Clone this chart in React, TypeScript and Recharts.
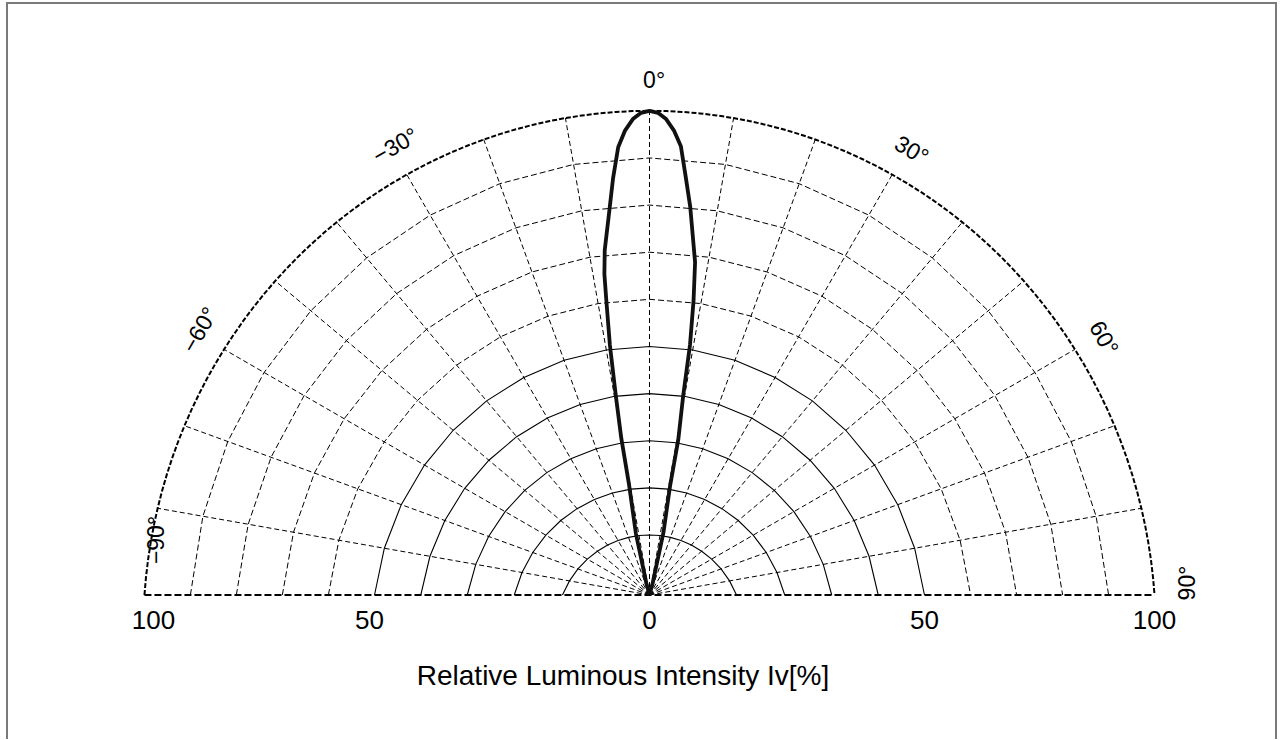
import React from 'react';
import { ScatterChart, Scatter, XAxis, YAxis } from 'recharts';

// ---------------- data ----------------
const gridAngles = [-90, -80, -70, -60, -50, -40, -30, -20, -10, 0, 10, 20, 30, 40, 50, 60, 70, 80, 90];
const spokeAngles = [-80, -70, -60, -50, -40, -30, -20, -10, 0, 10, 20, 30, 40, 50, 60, 70, 80];
const solidRings = [10, 20, 30, 40, 50];
const dashedRings = [60, 70, 80, 90];
const outerRing = 100;

// radiation pattern: angle (deg) -> relative luminous intensity (%)
const curveAngles = [-90, -30, -15, -12.5, -10.5, -10.2, -9.6, -9, -8.3, -8, -7.4, -6, -5, -4, -3, -2, -1, 0, 1, 2, 3, 4, 5, 6, 7.8, 8.5, 9.2, 9.6, 10.5, 10.7, 12.6, 15, 30, 90];
const curveValues = [0, 0, 2, 10.5, 21, 31, 40, 51, 61, 66, 71, 79, 86, 92.5, 96, 98.3, 99.6, 100, 99.6, 98.3, 96, 92.7, 86, 80, 68.5, 60.5, 51, 40, 30.7, 20.6, 10.7, 2, 0, 0];

const angleLabelAngles = [-90, -60, -30, 0, 30, 60, 90];
const angleLabelTexts = ['\u221290\u00b0', '\u221260\u00b0', '\u221230\u00b0', '0\u00b0', '30\u00b0', '60\u00b0', '90\u00b0'];

const tickValues = [-100, -50, 0, 50, 100];
const tickLabels = ['100', '50', '0', '50', '100'];
const axisTitle = 'Relative Luminous Intensity Iv[%]';

// ---------------- geometry / layout ----------------
const W = 1280;
const H = 740;
const CX = 649.5;
const BASE_Y = 595;
const PX = 5.045; // px per unit
const RING_D = 36.8 / PX; // ring centres sit slightly below the baseline
const RING_SY = 1.029;
const ringRadius = (v: number) => (48.3 + 4.58 * v) / PX;
const LABEL_GAP = 31 / PX;
const FONT = '"Liberation Sans", Arial, Helvetica, sans-serif';
const OUTER_STEP = 2;
const outerAngles = Array.from({ length: 180 / OUTER_STEP + 1 }, (_, i) => -90 + i * OUTER_STEP);

function rho(deg: number, v: number): number {
  if (v <= 0) return 0;
  if (v < 10) return (v / 10) * rho(deg, 10);
  const th = (deg * Math.PI) / 180;
  const s = Math.sin(th);
  const c = Math.cos(th);
  const a = ringRadius(v);
  const b = a * RING_SY;
  const d = RING_D;
  const A = (s * s) / (a * a) + (c * c) / (b * b);
  const B = (2 * c * d) / (b * b);
  const C = (d * d) / (b * b) - 1;
  return (-B + Math.sqrt(B * B - 4 * A * C)) / (2 * A);
}

function polar(deg: number, v: number, extra = 0) {
  const r = rho(deg, v) + (v > 0 ? extra : 0);
  const th = (deg * Math.PI) / 180;
  return { x: r * Math.sin(th), y: r * Math.cos(th) };
}

const ringData = (v: number, angles: number[] = gridAngles) => angles.map((a) => polar(a, v));
const spokeData = (a: number) => [{ x: 0, y: 0 }, polar(a, outerRing)];
const baselineData = [polar(-90, outerRing), { x: 0, y: 0 }, polar(90, outerRing)];
const curveData = curveAngles.map((a, i) => polar(a, curveValues[i]));
const labelData = angleLabelAngles.map((a, i) => ({
  ...(Math.abs(a) === 90 ? polar(a, outerRing) : polar(a, outerRing, LABEL_GAP)),
  angle: a,
  text: angleLabelTexts[i],
}));
const tickPositions = tickValues.map((v) => Math.sign(v) * rho(90, Math.abs(v)));
const tickDx = [9, -5, 0, 0, 0];

const X_DOMAIN: [number, number] = [-CX / PX, (W - CX) / PX];
const Y_DOMAIN: [number, number] = [0, BASE_Y / PX];

const noShape = () => <g />;

const AngleLabel = (props: any) => {
  const { cx, cy, payload } = props;
  const a = payload.angle;
  let tx = cx;
  let ty = cy;
  let rot = a;
  let dx = 4.6;
  if (a === -90) {
    tx = cx + 12;
    ty = cy - 55;
    rot = -90;
    dx = 0;
  } else if (a === 90) {
    tx = cx + 32;
    ty = cy - 12;
    rot = -90;
    dx = 0;
  }
  return (
    <text
      transform={`translate(${tx},${ty}) rotate(${rot})`}
      x={dx}
      y={0}
      textAnchor="middle"
      dominantBaseline="central"
      fontSize={23}
      fontFamily={FONT}
      fill="#000"
    >
      {payload.text}
    </text>
  );
};

const renderTick = (props: any) => {
  const { x, y, index } = props;
  return (
    <text
      x={x + (tickDx[index] || 0)}
      y={y + 34}
      textAnchor="middle"
      fontSize={26}
      fontFamily={FONT}
      fill="#000"
    >
      {tickLabels[index]}
    </text>
  );
};

const titleContent = () => (
  <text x={623} y={685} textAnchor="middle" fontSize={28} fontFamily={FONT} fill="#000">
    {axisTitle}
  </text>
);

export default function App() {
  return (
    <div style={{ position: 'absolute', left: 0, top: 0, width: W, height: H, background: '#fff' }}>
      <div
        style={{
          position: 'absolute',
          left: 6,
          top: 2,
          width: 1271,
          height: 737,
          boxSizing: 'border-box',
          borderLeft: '2px solid #7a7a7a',
          borderTop: '2px solid #7a7a7a',
          borderRight: '2px solid #7a7a7a',
        }}
      />
      <div style={{ position: 'absolute', left: 0, top: 0 }}>
        <ScatterChart width={W} height={H} margin={{ top: 0, right: 0, bottom: 0, left: 0 }}>
          <XAxis
            type="number"
            dataKey="x"
            domain={X_DOMAIN}
            ticks={tickPositions}
            interval={0}
            tick={renderTick}
            tickLine={false}
            axisLine={false}
            tickSize={0}
            tickMargin={0}
            height={H - BASE_Y}
            label={{ value: axisTitle, content: titleContent }}
          />
          <YAxis type="number" dataKey="y" domain={Y_DOMAIN} hide />
          {spokeAngles.map((a) => (
            <Scatter
              key={`spoke${a}`}
              data={spokeData(a)}
              line={{ stroke: '#000', strokeWidth: 1, strokeDasharray: '5 3' }}
              lineType="joint"
              shape={noShape}
              fill="none"
              isAnimationActive={false}
            />
          ))}
          {solidRings.map((v) => (
            <Scatter
              key={`sr${v}`}
              data={ringData(v)}
              line={{ stroke: '#000', strokeWidth: 1.1 }}
              lineType="joint"
              shape={noShape}
              fill="none"
              isAnimationActive={false}
            />
          ))}
          {dashedRings.map((v) => (
            <Scatter
              key={`dr${v}`}
              data={ringData(v)}
              line={{ stroke: '#000', strokeWidth: 1, strokeDasharray: '6 3' }}
              lineType="joint"
              shape={noShape}
              fill="none"
              isAnimationActive={false}
            />
          ))}
          <Scatter
            data={ringData(outerRing, outerAngles)}
            line={{ stroke: '#000', strokeWidth: 2, strokeDasharray: '5 2' }}
            lineType="joint"
            shape={noShape}
            fill="none"
            isAnimationActive={false}
          />
          <Scatter
            data={baselineData}
            line={{ stroke: '#000', strokeWidth: 2, strokeDasharray: '7 3' }}
            lineType="joint"
            shape={noShape}
            fill="none"
            isAnimationActive={false}
          />
          <Scatter
            data={curveData}
            line={{ stroke: '#111', strokeWidth: 3.8, strokeLinejoin: 'round' }}
            lineType="joint"
            shape={noShape}
            fill="none"
            isAnimationActive={false}
          />
          <Scatter data={labelData} shape={AngleLabel} fill="#000" isAnimationActive={false} />
        </ScatterChart>
      </div>
    </div>
  );
}
